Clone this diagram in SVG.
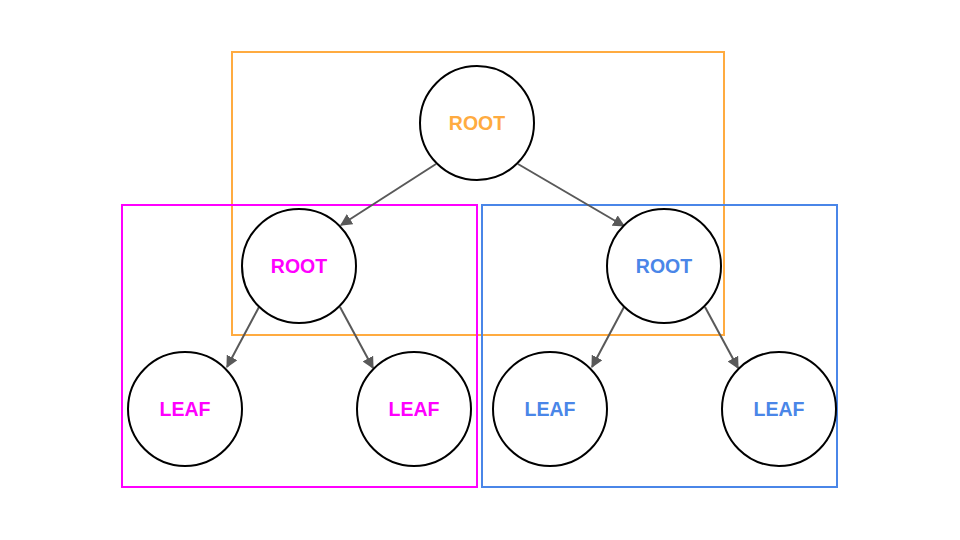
<svg xmlns="http://www.w3.org/2000/svg" width="960" height="540" viewBox="0 0 960 540">
<style>
.n{fill:#fff;stroke:#000;stroke-width:2}
.t{font-family:"Liberation Sans",Arial,sans-serif;font-weight:bold;font-size:19.5px;text-anchor:middle;dominant-baseline:central}
.o{fill:#FFAB40}.m{fill:#FF00FF}.b{fill:#4A86E8}
.c{stroke:#595959;stroke-width:2;fill:none;marker-end:url(#a)}
.g{fill:none;stroke-width:2}
</style>
<defs>
<marker id="a" viewBox="0 0 10 10" refX="9" refY="5" markerWidth="6" markerHeight="6" orient="auto" markerUnits="strokeWidth">
<path d="M0,0L10,5L0,10z" fill="#595959"/>
</marker>
</defs>
<rect width="960" height="540" fill="#fff"/>
<g id="groups">
<rect class="g" x="232" y="52" width="492" height="283" stroke="#FFAB40"/>
<rect class="g" x="122" y="205" width="355" height="282" stroke="#FF00FF"/>
<rect class="g" x="482" y="205" width="355" height="282" stroke="#4A86E8"/>
</g>
<g id="connectors">
<line class="c" x1="436" y1="164" x2="341" y2="225"/>
<line class="c" x1="518" y1="164" x2="624" y2="226"/>
<line class="c" x1="259" y1="307" x2="227" y2="367"/>
<line class="c" x1="340" y1="307" x2="373" y2="368"/>
<line class="c" x1="624" y1="307" x2="592" y2="367"/>
<line class="c" x1="705" y1="307" x2="738" y2="368"/>
</g>
<g id="root"><circle class="n" cx="477" cy="123" r="57"/><text class="t o" x="477" y="123">ROOT</text></g>
<g id="root-left"><circle class="n" cx="299" cy="266" r="57"/><text class="t m" x="299" y="266">ROOT</text></g>
<g id="root-right"><circle class="n" cx="664" cy="266" r="57"/><text class="t b" x="664" y="266">ROOT</text></g>
<g id="leaf1"><circle class="n" cx="185" cy="409" r="57"/><text class="t m" x="185" y="409">LEAF</text></g>
<g id="leaf2"><circle class="n" cx="414" cy="409" r="57"/><text class="t m" x="414" y="409">LEAF</text></g>
<g id="leaf3"><circle class="n" cx="550" cy="409" r="57"/><text class="t b" x="550" y="409">LEAF</text></g>
<g id="leaf4"><circle class="n" cx="779" cy="409" r="57"/><text class="t b" x="779" y="409">LEAF</text></g>
</svg>
